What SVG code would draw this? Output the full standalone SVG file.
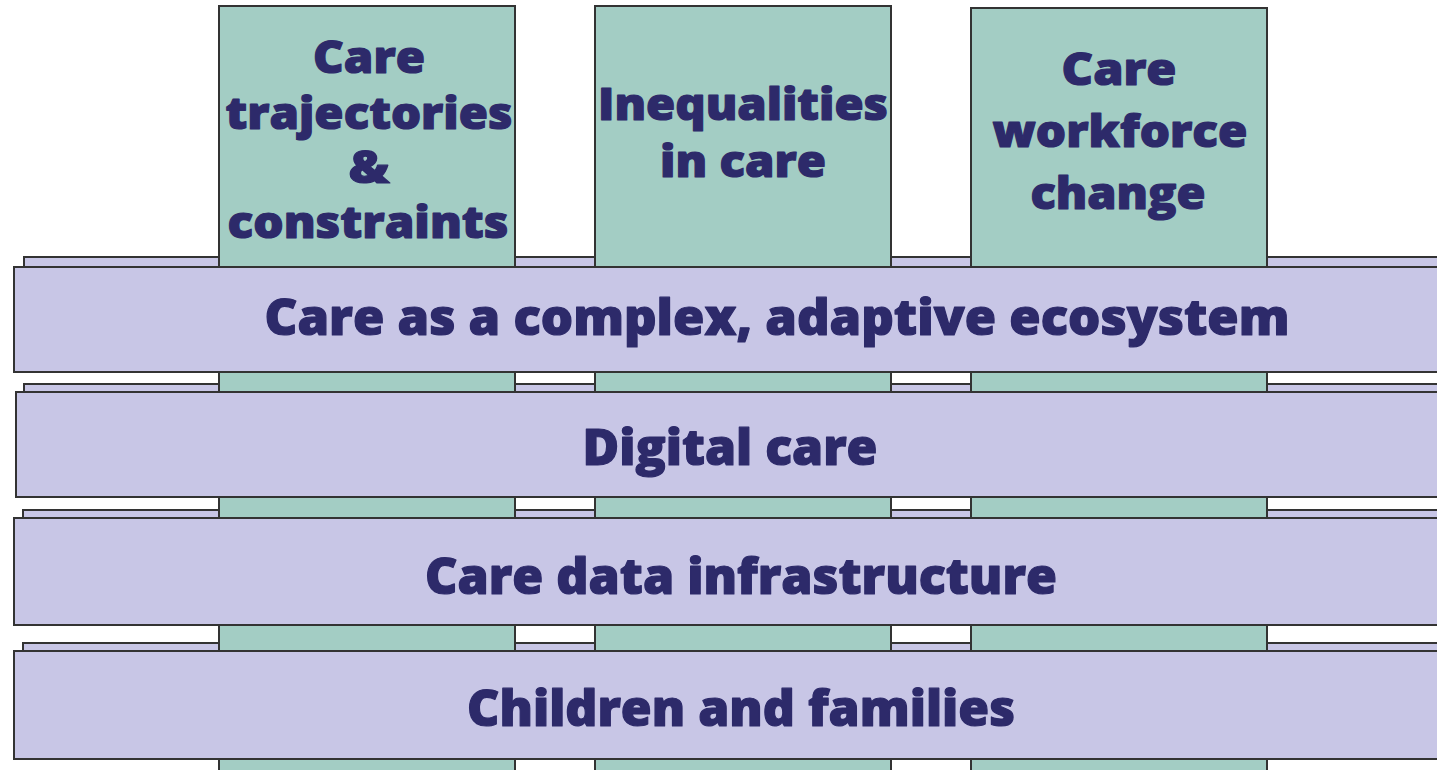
<svg xmlns="http://www.w3.org/2000/svg" width="1437" height="770" viewBox="0 0 1437 770">
<style>
.back{fill:#c8c6e6;stroke:#333;stroke-width:2}
.bar{fill:#c8c6e6;stroke:#333;stroke-width:2}
.col{fill:#a3cdc4;stroke:#333;stroke-width:2}
.t{font-family:"Open Sans","Noto Sans",sans-serif;font-weight:800;fill:#2d2a6a;stroke:#2d2a6a;stroke-width:1.2;stroke-linejoin:round;text-anchor:middle}
.tb{font-size:50px}
.tc{font-size:45px}
</style>
<rect width="1437" height="770" fill="#fff"/>
<g id="backplates">
<rect class="back" x="24" y="257" width="1430" height="20"/>
<rect class="back" x="24" y="384" width="1430" height="20"/>
<rect class="back" x="23" y="510" width="1430" height="20"/>
<rect class="back" x="23" y="643" width="1430" height="20"/>
</g>
<g id="col-trajectories">
<rect class="col" x="219" y="6" width="296" height="780"/>
<text class="t tc"><tspan x="369" y="73" textLength="112" lengthAdjust="spacingAndGlyphs">Care</tspan></text>
<text class="t tc"><tspan x="369" y="129" textLength="287" lengthAdjust="spacingAndGlyphs">trajectories</tspan></text>
<text class="t tc"><tspan x="369" y="183" textLength="41" lengthAdjust="spacingAndGlyphs">&amp;</tspan></text>
<text class="t tc"><tspan x="368" y="238" textLength="281" lengthAdjust="spacingAndGlyphs">constraints</tspan></text>
</g>
<g id="col-inequalities">
<rect class="col" x="595" y="6" width="296" height="780"/>
<text class="t tc"><tspan x="743" y="120" textLength="290" lengthAdjust="spacingAndGlyphs">Inequalities</tspan></text>
<text class="t tc"><tspan x="743" y="177" textLength="166" lengthAdjust="spacingAndGlyphs">in care</tspan></text>
</g>
<g id="col-workforce">
<rect class="col" x="971" y="8" width="296" height="780"/>
<text class="t tc"><tspan x="1119" y="85" textLength="115" lengthAdjust="spacingAndGlyphs">Care</tspan></text>
<text class="t tc"><tspan x="1120" y="147" textLength="255" lengthAdjust="spacingAndGlyphs">workforce</tspan></text>
<text class="t tc"><tspan x="1118" y="209" textLength="175" lengthAdjust="spacingAndGlyphs">change</tspan></text>
</g>
<g id="bar-ecosystem">
<rect class="bar" x="14" y="267" width="1440" height="105"/>
<text class="t tb"><tspan x="777" y="335" textLength="1025" lengthAdjust="spacingAndGlyphs">Care as a complex, adaptive ecosystem</tspan></text>
</g>
<g id="bar-digital">
<rect class="bar" x="16" y="392" width="1440" height="105"/>
<text class="t tb"><tspan x="730" y="465" textLength="295" lengthAdjust="spacingAndGlyphs">Digital care</tspan></text>
</g>
<g id="bar-data">
<rect class="bar" x="14" y="518" width="1440" height="107"/>
<text class="t tb"><tspan x="741" y="594" textLength="632" lengthAdjust="spacingAndGlyphs">Care data infrastructure</tspan></text>
</g>
<g id="bar-children">
<rect class="bar" x="14" y="651" width="1440" height="108"/>
<text class="t tb"><tspan x="741" y="726" textLength="548" lengthAdjust="spacingAndGlyphs">Children and families</tspan></text>
</g>
<g id="connectors"/>
</svg>
